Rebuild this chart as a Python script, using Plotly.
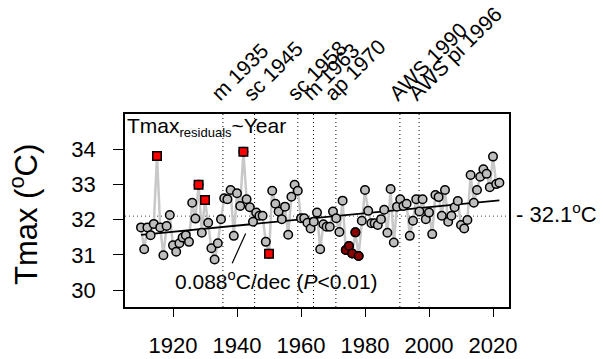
import plotly.graph_objects as go

# ---------------- data ----------------
first_year = 1910
tmax = [
    31.78, 31.16, 31.78, 31.56, 31.88, 33.81, 31.78, 30.99, 31.82, 32.13,   # 1910-1919
    31.27, 31.09, 31.33, 31.49, 31.56, 31.37, 32.48, 32.03, 32.99, 31.63,   # 1920-1929
    32.56, 31.91, 31.19, 30.87, 31.33, 32.01, 32.61, 32.58, 32.84, 31.54,   # 1930-1939
    32.75, 32.39, 33.93, 32.58, 32.35, 31.94, 32.20, 32.11, 32.11, 31.37,   # 1940-1949
    31.03, 32.82, 32.45, 32.23, 32.01, 32.37, 31.57, 32.65, 32.99, 32.82,   # 1950-1959
    32.04, 32.04, 31.91, 31.75, 31.94, 32.20, 31.16, 31.87, 31.80, 31.80,   # 1960-1969
    32.23, 32.04, 31.65, 32.54, 31.14, 31.25, 31.04, 31.64, 30.97, 31.97,   # 1970-1979
    32.84, 32.25, 31.90, 31.90, 31.85, 32.01, 32.28, 31.63, 32.87, 31.35,   # 1980-1989
    32.37, 32.58, 32.39, 32.45, 31.54, 31.97, 32.58, 32.23, 32.58, 32.01,   # 1990-1999
    32.20, 31.59, 32.70, 32.64, 32.11, 32.84, 31.94, 32.11, 32.35, 32.53,   # 2000-2009
    31.85, 31.75, 31.99, 33.27, 32.48, 32.84, 33.22, 33.43, 33.30, 32.92,   # 2010-2019
    33.79, 33.01, 33.05,                                                    # 2020-2022
]
years = [first_year + i for i in range(len(tmax))]

red_years = [1915, 1928, 1930, 1942, 1950]
darkred_years = [1974, 1975, 1976, 1977, 1978]

trend_years = [1910, 2022]
trend_values = [31.57, 32.55]

mean_value = 32.1
mean_label = "- 32.1<sup>o</sup>C"

event_labels = ["m 1935", "sc 1945", "sc 1958", "m 1963", "ap 1970", "AWS 1990", "AWS pi 1996"]
event_lines = [1935.6, 1945.5, 1959.0, 1963.9, 1970.9, 1990.9, 1996.9]

x_ticks = [1920, 1940, 1960, 1980, 2000, 2020]
y_ticks = [30, 31, 32, 33, 34]

# ---------------- figure ----------------
FONT = "Liberation Sans, Arial, Helvetica, sans-serif"
val = dict(zip(years, tmax))

W, H = 603, 359
ML, MR, MT, MB = 125, 94, 114, 52
plot_w = W - ML - MR
plot_h = H - MT - MB


def px_to_paper(px, py):
    return (px - ML) / plot_w, (H - MB - py) / plot_h


fig = go.Figure()

fig.add_trace(go.Scatter(x=years, y=tmax, mode="lines",
                         line=dict(color="#c8c8c8", width=2.5),
                         hoverinfo="skip", showlegend=False))
fig.add_trace(go.Scatter(x=trend_years, y=trend_values, mode="lines",
                         line=dict(color="black", width=1.8),
                         hoverinfo="skip", showlegend=False))
fig.add_trace(go.Scatter(x=years, y=tmax, mode="markers",
                         marker=dict(symbol="circle", size=8.5, color="#bebebe",
                                     line=dict(color="black", width=1.5)),
                         showlegend=False))
fig.add_trace(go.Scatter(x=darkred_years, y=[val[y] for y in darkred_years], mode="markers",
                         marker=dict(symbol="circle", size=8.5, color="#8b0000",
                                     line=dict(color="black", width=1.5)),
                         showlegend=False))
fig.add_trace(go.Scatter(x=red_years, y=[val[y] for y in red_years], mode="markers",
                         marker=dict(symbol="square", size=8.5, color="#ff0000",
                                     line=dict(color="black", width=1.5)),
                         showlegend=False))

shapes = []
for xv in event_lines:
    shapes.append(dict(type="line", xref="x", yref="paper", x0=xv, x1=xv, y0=0, y1=1,
                       line=dict(color="#111111", width=1, dash="1px,3px"), layer="below"))
shapes.append(dict(type="line", xref="paper", yref="y", x0=0, x1=1, y0=mean_value, y1=mean_value,
                   line=dict(color="#444444", width=1, dash="1px,3px"), layer="below"))
shapes.append(dict(type="line", xref="x", yref="y", x0=1938.5, y0=30.76, x1=1942.7, y1=31.61,
                   line=dict(color="black", width=1.2)))

annotations = []
for lab, xv in zip(event_labels, event_lines):
    annotations.append(dict(text=lab, x=xv, y=1.04, xref="x", yref="paper",
                            xanchor="left", yanchor="bottom", xshift=-17,
                            textangle=-45, showarrow=False, borderpad=0,
                            font=dict(family=FONT, size=21, color="black")))

annotations.append(dict(text="Tmax<sub><span style='font-size:13px'>residuals</span></sub>~Year",
                        x=0, y=1, xref="paper", yref="paper", xanchor="left", yanchor="top",
                        xshift=1, yshift=1, showarrow=False, borderpad=0,
                        font=dict(family=FONT, size=21, color="black")))
annotations.append(dict(text="0.088<sup>o</sup>C/dec (<i>P</i>&lt;0.01)",
                        x=1952.4, y=30.3, xref="x", yref="y", xanchor="center", yanchor="middle",
                        showarrow=False, borderpad=0,
                        font=dict(family=FONT, size=21, color="black")))
annotations.append(dict(text=mean_label, x=1, y=mean_value, xref="paper", yref="y",
                        xanchor="left", yanchor="middle", xshift=6, yshift=3,
                        showarrow=False, borderpad=0,
                        font=dict(family=FONT, size=22, color="black")))
yx, yy = px_to_paper(24, 215)
annotations.append(dict(text="Tmax (<sup>o</sup>C)", x=yx, y=yy, xref="paper", yref="paper",
                        xanchor="center", yanchor="middle",
                        showarrow=False, textangle=-90, borderpad=0,
                        font=dict(family=FONT, size=31, color="black")))

fig.update_layout(
    width=W, height=H,
    margin=dict(l=ML, r=MR, t=MT, b=MB, autoexpand=False),
    paper_bgcolor="white", plot_bgcolor="white",
    shapes=shapes,
    annotations=annotations,
    font=dict(family=FONT, color="black"),
    xaxis=dict(range=[1905.0, 2025.0], tickvals=x_ticks, ticks="outside", ticklen=8,
               tickwidth=1.3, tickcolor="black", showline=True, mirror=True,
               linecolor="black", linewidth=1.5, showgrid=False, zeroline=False,
               ticklabelstandoff=10, automargin=False,
               tickfont=dict(family=FONT, size=22, color="black")),
    yaxis=dict(range=[29.52, 35.0], tickvals=y_ticks, ticks="outside", ticklen=10,
               tickwidth=1.3, tickcolor="black", showline=True, mirror=True,
               linecolor="black", linewidth=1.5, showgrid=False, zeroline=False,
               ticklabelstandoff=13, automargin=False,
               tickfont=dict(family=FONT, size=22, color="black")),
)

fig.write_html("out.html")
